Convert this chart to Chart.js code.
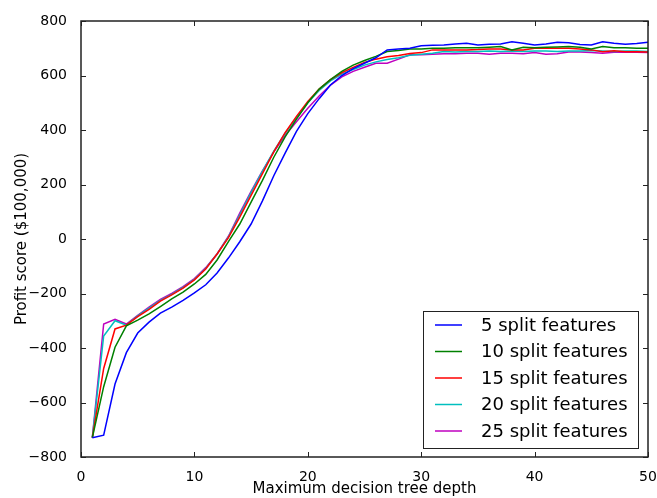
<!DOCTYPE html>
<html>
<head>
<meta charset="utf-8">
<script src="https://cdn.jsdelivr.net/npm/chart.js@4.4.0/dist/chart.umd.min.js"></script>
<style>
  html, body { margin: 0; padding: 0; background: #fff; }
</style>
</head>
<body>
<canvas id="profitChart" width="657" height="498"></canvas>
<script>
var depths = [];
for (var d = 1; d <= 50; d++) depths.push(d);

var labels = ["5 split features", "10 split features", "15 split features", "20 split features", "25 split features"];
var colors = ['#0000ff', '#008000', '#ff0000', '#00bfbf', '#bf00bf'];

var split5 = [-729, -720, -532, -417, -345, -305, -272, -250, -225, -198,
  -168, -125, -70, -10, 55, 140, 232, 315, 395, 460,
  515, 565, 600, 625, 645, 665, 694, 697, 700, 709,
  711, 712, 716, 718, 712, 715, 716, 724, 718, 712,
  716, 722, 720, 714, 712, 724, 718, 715, 717, 722];
var split10 = [-729, -542, -397, -319, -298, -275, -248, -220, -195, -165,
  -130, -77, -10, 55, 135, 215, 300, 375, 440, 500,
  550, 585, 615, 638, 655, 670, 688, 692, 697, 697,
  700, 700, 702, 702, 702, 704, 706, 694, 704, 702,
  704, 705, 706, 704, 697, 706, 702, 702, 700, 700];
var split15 = [-729, -475, -330, -316, -285, -258, -228, -205, -180, -150,
  -110, -55, 5, 80, 160, 240, 320, 390, 450, 505,
  550, 585, 610, 630, 648, 660, 669, 673, 681, 684,
  694, 694, 694, 694, 695, 697, 697, 694, 694, 700,
  700, 700, 700, 697, 694, 687, 691, 687, 687, 686];
var split20 = [-729, -356, -300, -316, -282, -254, -225, -203, -178, -148,
  -108, -55, 8, 88, 170, 248, 322, 388, 445, 500,
  545, 580, 605, 622, 638, 650, 659, 665, 674, 678,
  682, 688, 686, 688, 688, 690, 688, 690, 688, 690,
  690, 688, 690, 690, 692, 690, 688, 690, 690, 688];
var split25 = [-729, -312, -295, -312, -280, -250, -222, -200, -175, -145,
  -105, -55, 10, 95, 175, 250, 320, 380, 430, 480,
  525, 565, 595, 615, 630, 645, 645, 660, 676, 676,
  678, 680, 680, 682, 682, 678, 682, 682, 680, 684,
  678, 680, 686, 686, 684, 682, 685, 685, 685, 684];
var series = [split5, split10, split15, split20, split25];

var xTicks = [0, 10, 20, 30, 40, 50];
var yTicks = [-800, -600, -400, -200, 0, 200, 400, 600, 800];

function points(vals) {
  return vals.map(function (v, i) { return { x: depths[i], y: v }; });
}

// box, inward ticks on all four sides, like the old matplotlib style
var frameTicks = {
  id: 'frameTicks',
  afterDatasetsDraw: function (chart) {
    var c = chart.ctx, a = chart.chartArea;
    var xs = chart.scales.x, ys = chart.scales.y;
    c.save();
    c.strokeStyle = '#222';
    c.lineWidth = 1;
    c.beginPath();
    xTicks.forEach(function (t) {
      var px = Math.round(xs.getPixelForValue(t)) + 0.5;
      c.moveTo(px, a.bottom); c.lineTo(px, a.bottom - 5);
      c.moveTo(px, a.top); c.lineTo(px, a.top + 5);
    });
    yTicks.forEach(function (t) {
      var py = Math.round(ys.getPixelForValue(t)) + 0.5;
      c.moveTo(a.left, py); c.lineTo(a.left + 5, py);
      c.moveTo(a.right, py); c.lineTo(a.right - 5, py);
    });
    c.stroke();
    c.lineWidth = 1.5;
    c.strokeRect(a.left, a.top, a.right - a.left, a.bottom - a.top);
    c.restore();
  }
};

// legend box in the lower right of the plot
var boxLegend = {
  id: 'boxLegend',
  afterDraw: function (chart) {
    var c = chart.ctx, a = chart.chartArea;
    var w = 215, h = 137, rowH = 26.5;
    var x0 = a.right - 10 - w, y0 = a.bottom - 9 - h;
    c.save();
    c.fillStyle = '#fff';
    c.fillRect(x0, y0, w, h);
    c.strokeStyle = '#222';
    c.lineWidth = 1;
    c.strokeRect(x0 + 0.5, y0 + 0.5, w, h);
    c.font = '18px "DejaVu Sans"';
    c.textBaseline = 'middle';
    chart.data.datasets.forEach(function (ds, i) {
      var cy = y0 + 14 + i * rowH;
      c.strokeStyle = ds.borderColor;
      c.lineWidth = 1.5;
      c.beginPath();
      c.moveTo(x0 + 12, cy); c.lineTo(x0 + 39, cy);
      c.stroke();
      c.fillStyle = '#000';
      c.fillText(ds.label, x0 + 58, cy + 1);
    });
    c.restore();
  }
};

var ctx = document.getElementById('profitChart');
var profitChart = new Chart(ctx, {
  type: 'line',
  data: {
    datasets: series.map(function (s, i) {
      return {
        label: labels[i],
        data: points(s),
        borderColor: colors[i],
        backgroundColor: colors[i],
        borderWidth: 1.5,
        pointRadius: 0,
        tension: 0,
        fill: false
      };
    })
  },
  options: {
    responsive: false,
    animation: false,
    layout: { padding: { left: 0, right: 9, top: 21, bottom: 0 } },
    plugins: { legend: { display: false }, tooltip: { enabled: false } },
    scales: {
      x: {
        type: 'linear', min: 0, max: 50,
        afterFit: function (s) { s.height = 41; s.paddingLeft = 0; s.paddingRight = 0; },
        afterBuildTicks: function (s) { s.ticks = xTicks.map(function (v) { return { value: v }; }); },
        grid: { display: false },
        border: { display: false },
        ticks: { color: '#000', padding: 4, font: { family: 'DejaVu Sans', size: 14 } },
        title: { display: true, text: 'Maximum decision tree depth', color: '#000', padding: 0,
                 font: { family: 'DejaVu Sans', size: 15 } }
      },
      y: {
        type: 'linear', min: -800, max: 800,
        afterFit: function (s) { s.width = 81; s.paddingTop = 0; s.paddingBottom = 0; },
        afterBuildTicks: function (s) { s.ticks = yTicks.map(function (v) { return { value: v }; }); },
        grid: { display: false },
        border: { display: false },
        ticks: {
          color: '#000', padding: 6, font: { family: 'DejaVu Sans', size: 14 },
          callback: function (v) { return String(v).replace('-', '\u2212'); }
        },
        title: { display: true, text: 'Profit score ($100,000)', color: '#000', padding: { top: 13, bottom: 0 },
                 font: { family: 'DejaVu Sans', size: 15 } }
      }
    }
  },
  plugins: [frameTicks, boxLegend]
});
</script>
</body>
</html>
